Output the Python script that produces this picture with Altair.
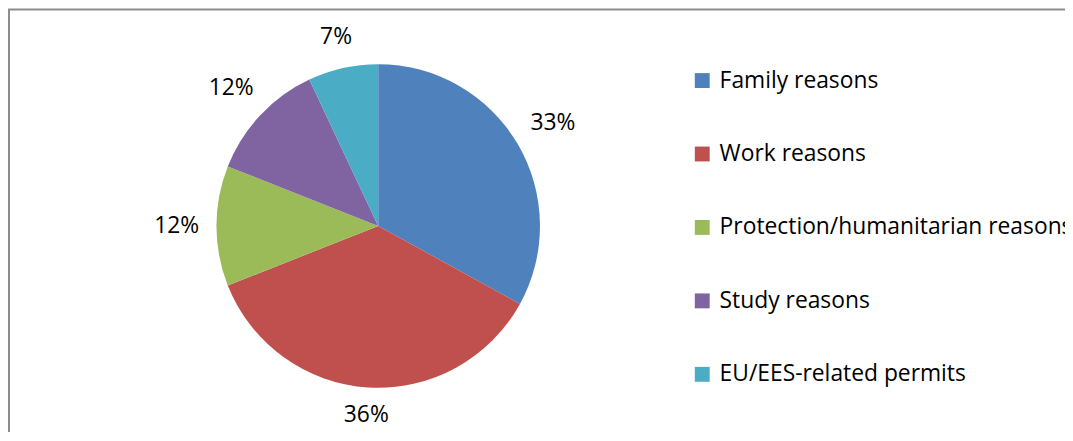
import altair as alt
import pandas as pd

categories = ["Family reasons", "Work reasons", "Protection/humanitarian reasons",
              "Study reasons", "EU/EES-related permits"]
shares = [33, 36, 12, 12, 7]
labels = ["33%", "36%", "12%", "12%", "7%"]
colors = ["#4F81BD", "#C0504D", "#9BBB59", "#8064A2", "#4BACC6"]

df = pd.DataFrame({"category": categories, "share": shares, "label": labels,
                   "order": list(range(len(categories)))})

CX, CY, R = 373, 218, 163
FONT = "Open Sans"

arcs = alt.Chart(df).mark_arc(outerRadius=R).encode(
    theta=alt.Theta("share:Q", stack=True),
    order=alt.Order("order:Q"),
    color=alt.Color(
        "category:N",
        scale=alt.Scale(domain=categories, range=colors),
        legend=alt.Legend(
            orient="none", legendX=688, legendY=60, title=None,
            symbolType="square", symbolSize=225, symbolStrokeWidth=0,
            symbolOpacity=1, labelFontSize=23, labelFont=FONT,
            labelColor="black", rowPadding=50, labelOffset=6,
            labelLimit=1000, padding=0,
        ),
    ),
    x=alt.value(CX),
    y=alt.value(CY),
)

text = (
    alt.Chart(df)
    .transform_joinaggregate(total="sum(share)")
    .transform_window(cum="sum(share)", sort=[alt.SortField("order")])
    .transform_calculate(mid="(datum.cum - datum.share/2)/datum.total*2*PI")
    .transform_calculate(
        r=f"{R + 18} + 22*abs(sin(datum.mid)) + 9*abs(cos(datum.mid))"
    )
    .mark_text(font=FONT, fontSize=23, align="center", baseline="middle",
               color="black")
    .encode(
        theta=alt.Theta("mid:Q", scale=None),
        radius=alt.Radius("r:Q", scale=None),
        text="label:N",
        x=alt.value(CX),
        y=alt.value(CY),
    )
)

border_df = pd.DataFrame({"k": [0]})
left_rule = alt.Chart(border_df).mark_rule(color="#8c8c8c", strokeWidth=2).encode(
    x=alt.value(1), y=alt.value(0), y2=alt.value(430)
)
top_rule = alt.Chart(border_df).mark_rule(color="#8c8c8c", strokeWidth=2).encode(
    x=alt.value(0), x2=alt.value(1070), y=alt.value(0)
)

chart = (
    alt.layer(arcs, text, left_rule, top_rule)
    .properties(width=1065, height=424, autosize=alt.AutoSizeParams(type="none"),
                padding=0, background="white")
    .configure_view(stroke=None)
)

chart.save("out.html", embed_options={"renderer": "svg", "actions": False})
